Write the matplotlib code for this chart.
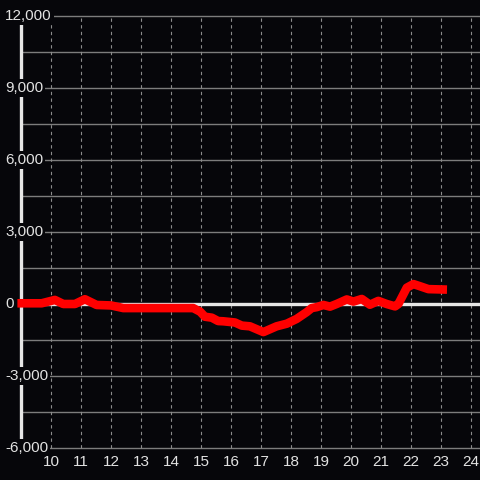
import matplotlib
matplotlib.use("Agg")

import matplotlib.pyplot as plt

# hour of day, value
hours = [8.88, 9.69, 10.13, 10.41, 10.8, 11.13, 11.52, 12.0, 12.41, 14.74,
         14.97, 15.13, 15.36, 15.57, 15.74, 16.13, 16.36, 16.63, 17.08, 17.3,
         17.52, 17.86, 18.19, 18.52, 18.69, 18.86, 19.08, 19.3, 19.52, 19.86,
         20.08, 20.36, 20.63, 20.91, 21.19, 21.47, 21.58, 21.86, 22.08, 22.3,
         22.58, 23.2]
values = [30, 30, 170, 0, 0, 200, -40, -60, -170, -170,
          -320, -530, -570, -710, -720, -770, -900, -930, -1170, -1050,
          -930, -820, -620, -340, -170, -130, -40, -110, 0, 190,
          100, 210, -30, 130, 0, -100, 0, 680, 830, 740,
          620, 600]

x_ticks = list(range(10, 25))
y_labels = [12000, 9000, 6000, 3000, 0, -3000, -6000]
y_grid = list(range(-6000, 12001, 1500))

BG = "#06060a"
GRID = "#7c7c7c"
TEXT = "#e2e2e2"

plt.rcParams["font.family"] = ["Liberation Sans", "DejaVu Sans"]

fig = plt.figure(figsize=(4.8, 4.8), dpi=100, facecolor=BG)
ax = fig.add_axes([0, 0, 1, 1])
ax.set_facecolor(BG)
ax.set_xlim(8.3, 24.3)
ax.set_ylim(-7333.3, 12666.7)
ax.axis("off")

ax.hlines(y_grid, 9.0, 24.3, color=GRID, lw=1.0, zorder=1)
ax.vlines(x_ticks, -6000, 12000, color="#8c8c8c", lw=0.8,
          linestyles=(0, (3, 3)), zorder=1)

ax.vlines(9.0, -6000, 12000, color="#e6e6e6", lw=2.4, zorder=2)
ax.hlines(0, 9.0, 24.3, color="#e6e6e6", lw=2.4, zorder=2)

ax.plot(hours, values, color="#ff0000", lw=6.2, solid_capstyle="butt",
        solid_joinstyle="round", zorder=3)

for v in y_labels:
    ax.text(8.3 + 5 / 30, v, f"{v:,}", color=TEXT, fontsize=11,
            ha="left", va="center", zorder=5,
            bbox=dict(facecolor=BG, edgecolor="none", pad=1.5))

for h in x_ticks:
    ax.text(h, -6583, str(h), color=TEXT, fontsize=11,
            ha="center", va="center", zorder=5)

fig.savefig("out.png", dpi=100, facecolor=BG)
